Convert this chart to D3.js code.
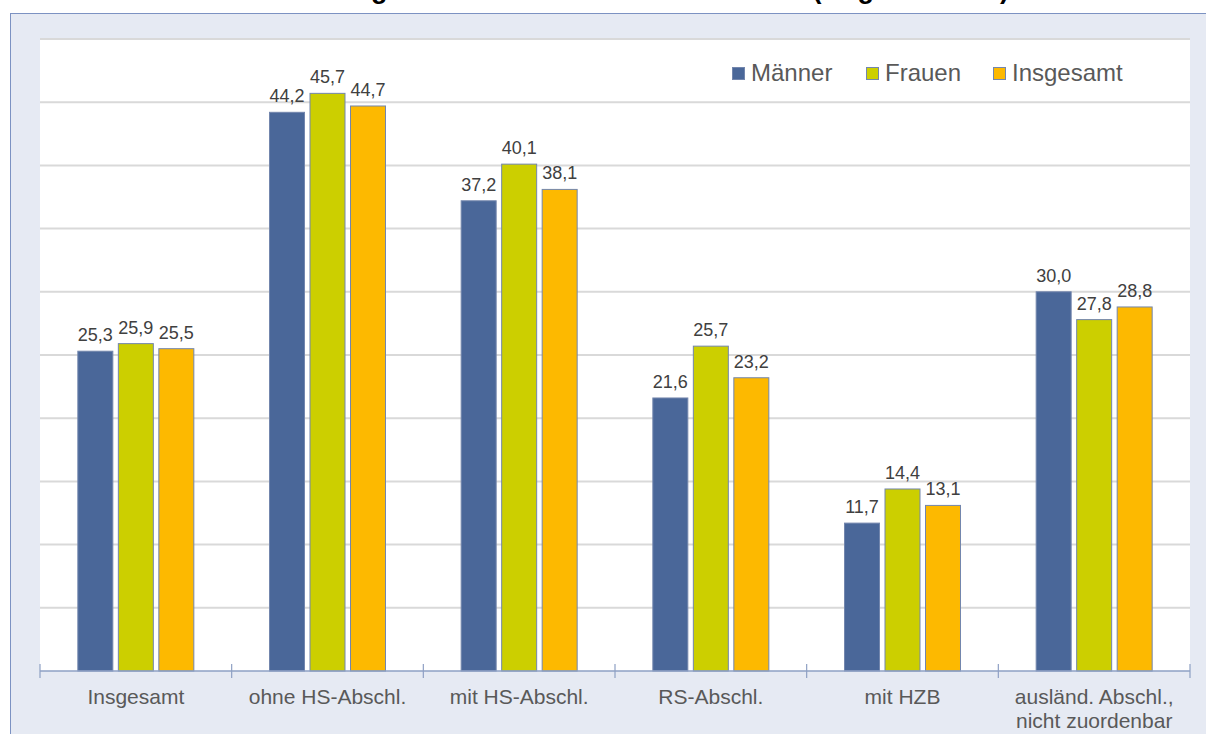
<!DOCTYPE html>
<html>
<head>
<meta charset="utf-8">
<script src="https://cdn.jsdelivr.net/npm/d3@7"></script>
<style>
  body { margin: 0; background: #fff; overflow: hidden; }
  svg { display: block; font-family: "Liberation Sans", Arial, sans-serif; }
  .grid line { stroke: #d9d9d9; stroke-width: 2; }
  .value { fill: #404040; font-size: 18px; text-anchor: middle; }
  .cat { fill: #595959; font-size: 21px; text-anchor: middle; }
  .legend-title { fill: #595959; font-size: 24px; }
</style>
</head>
<body>
<div class="chart-container"></div>
<script>
var categories = ['Insgesamt', 'ohne HS-Abschl.', 'mit HS-Abschl.', 'RS-Abschl.', 'mit HZB', 'ausländ. Abschl.,\nnicht zuordenbar'];
var series = ['Männer', 'Frauen', 'Insgesamt'];
var maenner = [25.3, 44.2, 37.2, 21.6, 11.7, 30.0];
var frauen = [25.9, 45.7, 40.1, 25.7, 14.4, 27.8];
var insgesamt = [25.5, 44.7, 38.1, 23.2, 13.1, 28.8];
var yTicks = [5, 10, 15, 20, 25, 30, 35, 40, 45, 50];
var title = 'Anteil der Langzeitarbeitslosen nach Abschluss (Angaben in %)';

var colors = {'Männer': '#4a6799', 'Frauen': '#cccf00', 'Insgesamt': '#fdb900'};
var values = {'Männer': maenner, 'Frauen': frauen, 'Insgesamt': insgesamt};

var width = 1206;
var height = 734;
var plot = {left: 40, right: 1190, top: 39, bottom: 671};

var de = d3.formatLocale({decimal: ',', thousands: '.', grouping: [3], currency: ['', ' €']});
var fmt = de.format('.1f');

var svg = d3.select('.chart-container').append('svg')
  .attr('width', width)
  .attr('height', height);

// frame
svg.append('rect')
  .attr('x', 10.5).attr('y', 13.5)
  .attr('width', width).attr('height', height)
  .attr('fill', '#e6eaf3')
  .attr('stroke', '#7c92c2');

svg.append('text')
  .attr('x', 600).attr('y', -2)
  .attr('text-anchor', 'middle')
  .style('font-size', '27px').style('font-weight', 'bold')
  .text(title);

svg.append('rect')
  .attr('x', plot.left).attr('y', plot.top)
  .attr('width', plot.right - plot.left).attr('height', plot.bottom - plot.top)
  .attr('fill', '#fff');

var y = d3.scaleLinear()
  .domain([0, 50])
  .range([plot.bottom, plot.top]);

var x0 = d3.scaleBand()
  .domain(categories)
  .range([plot.left, plot.right]);

var x1 = d3.scaleBand()
  .domain(series)
  .range([0, 116])
  .paddingInner(0.136);
var groupOffset = (x0.bandwidth() - 116) / 2;

svg.append('g')
  .attr('class', 'grid')
  .selectAll('line')
  .data(yTicks)
  .enter().append('line')
  .attr('x1', plot.left).attr('x2', plot.right)
  .attr('y1', d => y(d)).attr('y2', d => y(d));

var groups = svg.selectAll('.group')
  .data(categories)
  .enter().append('g')
  .attr('class', 'group')
  .attr('transform', d => `translate(${x0(d) + groupOffset},0)`);

groups.selectAll('rect')
  .data((d, i) => series.map(s => ({s: s, v: values[s][i]})))
  .enter().append('rect')
  .attr('x', d => x1(d.s))
  .attr('y', d => y(d.v))
  .attr('width', x1.bandwidth())
  .attr('height', d => y(0) - y(d.v))
  .attr('fill', d => colors[d.s])
  .attr('stroke', '#7386ad')
  .attr('stroke-width', 1);

groups.selectAll('.value')
  .data((d, i) => series.map(s => ({s: s, v: values[s][i]})))
  .enter().append('text')
  .attr('class', 'value')
  .attr('x', d => x1(d.s) + x1.bandwidth() / 2)
  .attr('y', d => y(d.v) - 10)
  .text(d => fmt(d.v));

// x axis
var axisColor = '#8ea0c4';
svg.append('line')
  .attr('x1', plot.left).attr('x2', plot.right)
  .attr('y1', y(0)).attr('y2', y(0))
  .attr('stroke', axisColor).attr('stroke-width', 1.5);

var boundaries = categories.map(c => x0(c)).concat([plot.right]);
svg.selectAll('.tick-mark')
  .data(boundaries)
  .enter().append('line')
  .attr('class', 'tick-mark')
  .attr('x1', d => d).attr('x2', d => d)
  .attr('y1', y(0) - 7).attr('y2', y(0) + 7)
  .attr('stroke', axisColor).attr('stroke-width', 1.2);

var catLabels = svg.selectAll('.cat')
  .data(categories)
  .enter().append('text')
  .attr('class', 'cat')
  .attr('transform', d => `translate(${x0(d) + x0.bandwidth() / 2},704)`);
catLabels.selectAll('tspan')
  .data(d => d.split('\n'))
  .enter().append('tspan')
  .attr('x', 0)
  .attr('dy', (d, i) => i ? 24 : 0)
  .text(d => d);

// legend
var legendX = [732, 866, 993];
var legend = svg.append('g').attr('class', 'legend');
series.forEach(function(s, i) {
  var entry = legend.append('g')
    .attr('transform', `translate(${legendX[i]},67)`);
  entry.append('rect')
    .attr('x', 0.5).attr('y', 0.5)
    .attr('width', 12).attr('height', 12)
    .attr('fill', colors[s])
    .attr('stroke', '#7386ad');
  entry.append('text')
    .attr('class', 'legend-title')
    .attr('x', 19).attr('y', 14)
    .text(s);
});
</script>
</body>
</html>
